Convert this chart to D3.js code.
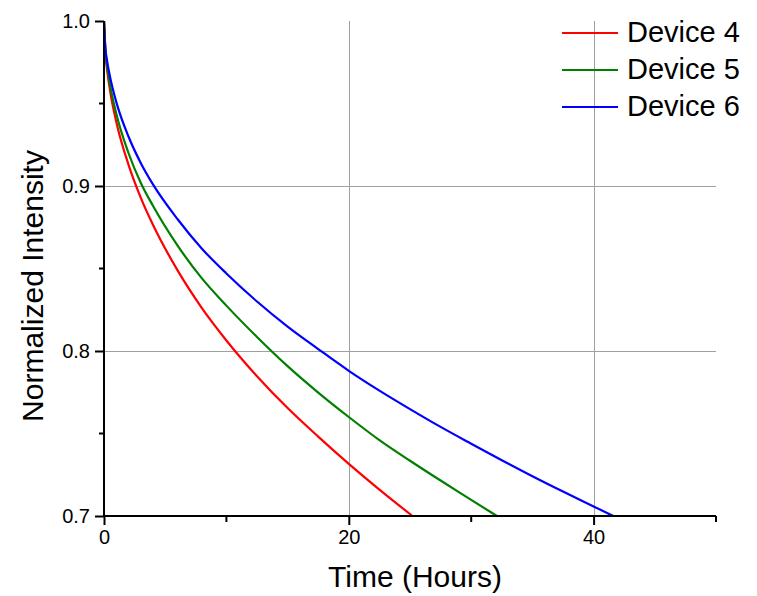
<!DOCTYPE html>
<html>
<head>
<meta charset="utf-8">
<script src="https://cdn.jsdelivr.net/npm/d3@7"></script>
<style>
  body { margin: 0; background: #fff; }
  svg text { font-family: "Liberation Sans", Arial, sans-serif; fill: #000; }
</style>
</head>
<body>
<svg id="chart"></svg>
<script>
// Series: [hours, normalized intensity]
var device4 = [[0,1.0],[0.1,0.982],[0.25,0.9705],[0.5,0.9576],[1,0.939],[2,0.913],[3,0.893],[4,0.8765],
  [6,0.849],[8,0.826],[10,0.8064],[12.5,0.7847],[15,0.7654],[17.5,0.7481],[20,0.7316],[22.5,0.716],[25.2,0.7]];
var device5 = [[0,1.0],[0.1,0.984],[0.25,0.973],[0.5,0.961],[1,0.944],[2,0.92],[3,0.902],[4,0.888],
  [6,0.864],[8,0.844],[10,0.8275],[12.5,0.8085],[15,0.7908],[17.5,0.7748],[20,0.76],[22.5,0.746],
  [25,0.7335],[27.5,0.7215],[30,0.7098],[32.1,0.7]];
var device6 = [[0,1.0],[0.1,0.985],[0.25,0.976],[0.5,0.966],[1,0.951],[2,0.93],[3,0.914],[4,0.901],
  [6,0.88],[8,0.862],[10,0.847],[12.5,0.83],[15,0.8148],[17.5,0.8012],[20,0.788],[22.5,0.776],
  [25,0.7648],[27.5,0.754],[30,0.7438],[32.5,0.7338],[35,0.7241],[37.5,0.7148],[40,0.7058],[41.6,0.7]];

var seriesNames = ["Device 4", "Device 5", "Device 6"];
var seriesColors = ["#ff0000", "#008000", "#0000ff"];
var xTicks = [0, 20, 40];
var xMinorTicks = [10, 30, 50];
var yTicks = [0.7, 0.8, 0.9, 1.0];
var yMinorTicks = [0.75, 0.85, 0.95];

var width = 757, height = 596;
var margin = { top: 21, right: 41, bottom: 80, left: 104 };

var svg = d3.select("#chart").attr("width", width).attr("height", height);

var x = d3.scaleLinear().domain([0, 50]).range([margin.left, width - margin.right]);
var y = d3.scaleLinear().domain([0.7, 1.0]).range([height - margin.bottom, margin.top]);

// Grid lines (only at labelled majors inside the frame)
var grid = svg.append("g").attr("stroke", "#a0a0a0").attr("stroke-width", 1);
grid.selectAll(".gy").data([0.8, 0.9]).enter().append("line")
  .attr("x1", x(0)).attr("x2", x(50))
  .attr("y1", function(d) { return Math.round(y(d)) + 0.5; })
  .attr("y2", function(d) { return Math.round(y(d)) + 0.5; });
grid.selectAll(".gx").data([20, 40]).enter().append("line")
  .attr("y1", y(1.0)).attr("y2", y(0.7))
  .attr("x1", function(d) { return Math.round(x(d)) + 0.5; })
  .attr("x2", function(d) { return Math.round(x(d)) + 0.5; });

// Curves
var line = d3.line()
  .x(function(d) { return x(d[0]); })
  .y(function(d) { return y(d[1]); })
  .curve(d3.curveMonotoneX);

[device4, device5, device6].forEach(function(data, i) {
  svg.append("path")
    .datum(data)
    .attr("fill", "none")
    .attr("stroke", seriesColors[i])
    .attr("stroke-width", 2.2)
    .attr("d", line);
});

// Axes: major ticks via d3 axis, minor ticks added separately
var xAxis = svg.append("g")
  .attr("transform", "translate(0," + y(0.7) + ")")
  .call(d3.axisBottom(x).tickValues(xTicks).tickSize(9).tickFormat(d3.format("d")));
xAxis.selectAll(".minor").data(xMinorTicks).enter().append("line")
  .attr("class", "minor")
  .attr("x1", function(d) { return x(d); }).attr("x2", function(d) { return x(d); })
  .attr("y1", 0).attr("y2", 6).attr("stroke", "#000").attr("stroke-width", 2);

var yAxis = svg.append("g")
  .attr("transform", "translate(" + x(0) + ",0)")
  .call(d3.axisLeft(y).tickValues(yTicks).tickSize(9).tickFormat(d3.format(".1f")));
yAxis.selectAll(".minor").data(yMinorTicks).enter().append("line")
  .attr("class", "minor")
  .attr("y1", function(d) { return y(d); }).attr("y2", function(d) { return y(d); })
  .attr("x1", 0).attr("x2", -5).attr("stroke", "#000").attr("stroke-width", 2);

[xAxis, yAxis].forEach(function(ax) {
  ax.select(".domain").attr("stroke", "#000").attr("stroke-width", 2);
  ax.selectAll(".tick line").attr("stroke", "#000").attr("stroke-width", 2);
  ax.selectAll(".tick text").style("font-size", "20px").attr("fill", "#000");
});
xAxis.select(".domain").attr("d", "M" + x(0) + ",0H" + x(50));
yAxis.select(".domain").attr("d", "M0," + y(1.0) + "V" + y(0.7));
xAxis.selectAll(".tick text").attr("y", 14);
yAxis.selectAll(".tick text").attr("x", -14);

// Axis titles
svg.append("text")
  .attr("x", x(25) + 5).attr("y", 587)
  .attr("text-anchor", "middle")
  .style("font-size", "30px")
  .text("Time (Hours)");

svg.append("text")
  .attr("transform", "translate(43,286) rotate(-90)")
  .attr("text-anchor", "middle")
  .style("font-size", "30px")
  .text("Normalized Intensity");

// Legend
var legend = svg.append("g").selectAll("g")
  .data(seriesNames)
  .enter().append("g")
  .attr("transform", function(d, i) { return "translate(562," + (33 + i * 37) + ")"; });
legend.append("line")
  .attr("x1", 0).attr("x2", 56)
  .attr("stroke", function(d, i) { return seriesColors[i]; })
  .attr("stroke-width", 2.2);
legend.append("text")
  .attr("x", 65).attr("y", 9)
  .style("font-size", "29px")
  .text(function(d) { return d; });
</script>
</body>
</html>
